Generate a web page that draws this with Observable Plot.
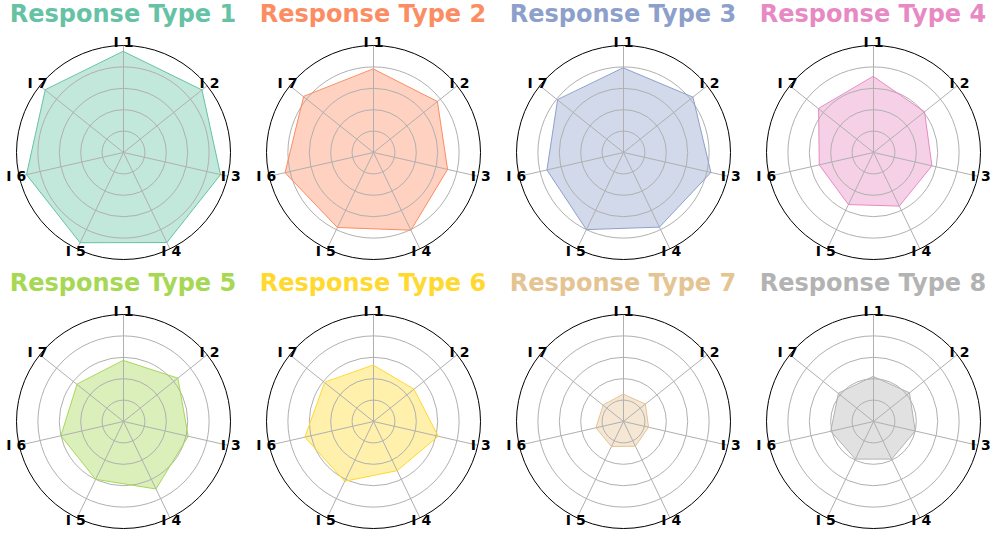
<!DOCTYPE html>
<html>
<head>
<meta charset="utf-8">
<script src="https://cdn.jsdelivr.net/npm/d3@7"></script>
<script src="https://cdn.jsdelivr.net/npm/@observablehq/plot@0.6"></script>
<style>
  html, body { margin: 0; padding: 0; background: #fff; width: 992px; height: 534px; overflow: hidden; }
  .panel { position: absolute; width: 250px; }
  .title { height: 28px; line-height: 28px; font: bold 24px "DejaVu Sans", sans-serif; text-align: center; white-space: nowrap; }
  svg { display: block; }
</style>
</head>
<body>
<div id="root"></div>
<script>
// ---- data ----
const axes = ["I 1", "I 2", "I 3", "I 4", "I 5", "I 6", "I 7"];
const titles = ["Response Type 1", "Response Type 2", "Response Type 3", "Response Type 4",
                "Response Type 5", "Response Type 6", "Response Type 7", "Response Type 8"];
const colors = ["#66c2a5", "#fc8d62", "#8da0cb", "#e78ac3", "#a6d854", "#ffd92f", "#e5c494", "#b3b3b3"];
const type1 = [4.72, 4.69, 4.65, 4.67, 4.68, 4.65, 4.68];
const type2 = [3.90, 3.82, 3.55, 4.03, 3.89, 4.24, 4.18];
const type3 = [3.95, 4.15, 4.19, 3.87, 4.00, 3.67, 3.94];
const type4 = [3.55, 3.05, 2.80, 2.78, 2.70, 2.60, 3.28];
const type5 = [2.85, 3.25, 3.10, 3.50, 3.00, 3.00, 2.78];
const type6 = [2.63, 2.42, 3.10, 2.55, 3.10, 3.29, 2.92];
const type7 = [1.27, 1.31, 1.20, 1.28, 1.30, 1.32, 1.22];
const type8 = [2.10, 2.15, 2.00, 1.95, 1.95, 2.05, 2.10];
const series = [type1, type2, type3, type4, type5, type6, type7, type8];
const rings = [1, 2, 3, 4];
const rMax = 5;

// ---- layout ----
const W = 250, R = 107, k = rMax / R;
const angle = i => (2 * Math.PI * i) / axes.length;
const root = document.getElementById("root");

series.forEach((vals, s) => {
  const col = s % 4, row = Math.floor(s / 4);
  const H = row === 0 ? 241 : 237;
  const cy = 124;
  const div = document.createElement("div");
  div.className = "panel";
  div.style.left = (col * 250 - 2) + "px";
  div.style.top = (row * 269) + "px";
  const t = document.createElement("div");
  t.className = "title";
  t.style.color = colors[s];
  t.textContent = titles[s];
  div.appendChild(t);

  const pts = vals.map((v, i) => ({axis: axes[i], x: v * Math.sin(angle(i)), y: v * Math.cos(angle(i))}));
  const spokes = axes.map((a, i) => ({axis: a, x: rMax * Math.sin(angle(i)), y: rMax * Math.cos(angle(i))}));
  const lab = 5.14;
  const labels = axes.map((a, i) => ({axis: a, x: lab * Math.sin(angle(i)), y: lab * Math.cos(angle(i))}));

  const svg = Plot.plot({
    width: W, height: H,
    margin: 0,
    style: {background: "transparent", overflow: "visible"},
    x: {domain: [-(W / 2) * k, (W / 2) * k], axis: null},
    y: {domain: [-(H - cy) * k, cy * k], axis: null},
    r: {type: "linear", domain: [0, rMax], range: [0, R]},
    marks: [
      Plot.line(pts, {x: "x", y: "y", curve: "linear-closed", fill: colors[s], fillOpacity: 0.4, stroke: "none"}),
      Plot.dot(rings, {x: 0, y: 0, r: d => d, stroke: "#b0b0b0", strokeWidth: 1, fill: "none"}),
      Plot.link(spokes, {x1: 0, y1: 0, x2: "x", y2: "y", stroke: "#b0b0b0", strokeWidth: 1}),
      Plot.line(pts, {x: "x", y: "y", curve: "linear-closed", stroke: colors[s], strokeWidth: 1, fill: "none"}),
      Plot.dot([rMax], {x: 0, y: 0, r: d => d, stroke: "#000", strokeWidth: 1, fill: "none"}),
      Plot.text(labels, {x: "x", y: "y", text: "axis", fontSize: 14, fontWeight: "bold", fill: "#000",
                         fontFamily: "DejaVu Sans", textAnchor: "middle", lineAnchor: "middle"})
    ]
  });
  div.appendChild(svg);
  root.appendChild(div);
});
</script>
</body>
</html>
